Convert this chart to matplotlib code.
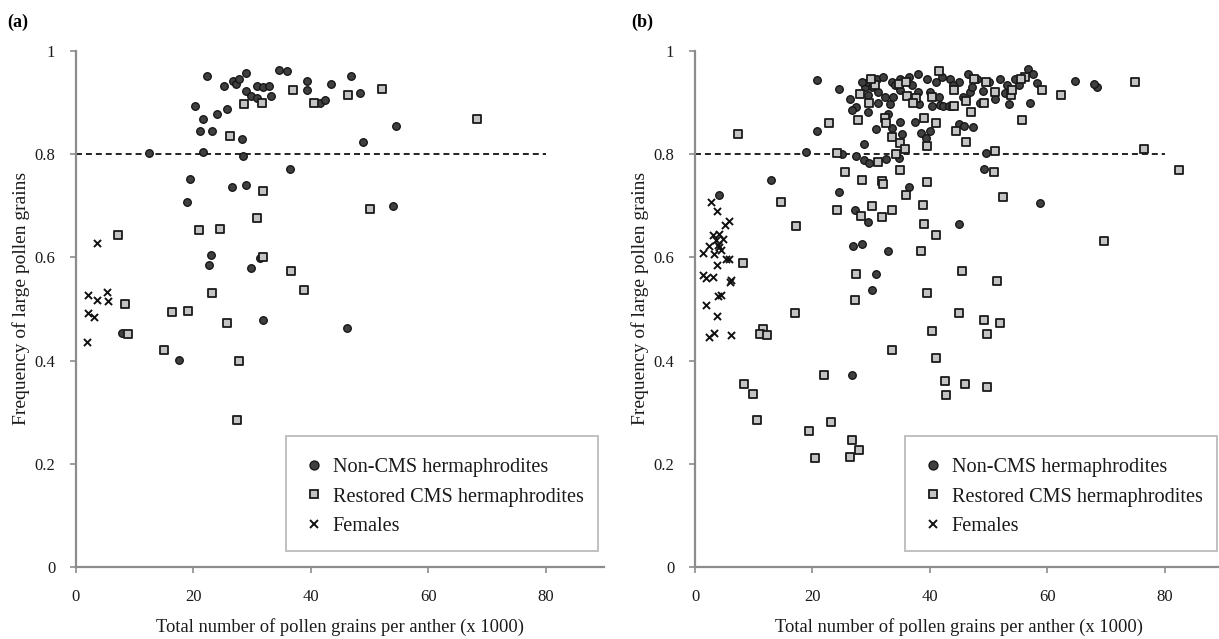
import matplotlib
matplotlib.use("Agg")
import matplotlib.pyplot as plt
from matplotlib.lines import Line2D
from matplotlib.patches import Rectangle

plt.rcParams['font.family'] = ['Liberation Serif', 'DejaVu Serif']

# (a) pollen counts (x 1000) and frequency of large grains
a_noncms_x = [22.4, 25.2, 26.7, 27.3, 27.7, 29.0, 29.0, 29.8, 30.8, 30.8, 31.9, 32.8,
              33.3, 34.6, 35.9, 39.4, 39.4, 41.6, 42.4, 43.5, 46.9, 48.3, 20.3, 21.6,
              24.0, 25.7, 21.1, 23.2, 28.2, 21.6, 12.5, 28.4, 48.9, 54.5, 36.5, 19.4,
              18.9, 26.5, 29.0, 54.0, 23.0, 22.7, 31.3, 29.8, 31.9, 7.9, 17.5, 46.2]
a_noncms_y = [0.951, 0.933, 0.942, 0.936, 0.945, 0.958, 0.922, 0.912, 0.933, 0.909, 0.930, 0.933,
              0.912, 0.964, 0.961, 0.942, 0.924, 0.900, 0.906, 0.936, 0.951, 0.918, 0.894, 0.869,
              0.878, 0.888, 0.845, 0.845, 0.830, 0.805, 0.802, 0.796, 0.824, 0.854, 0.772, 0.751,
              0.708, 0.736, 0.741, 0.699, 0.604, 0.586, 0.598, 0.580, 0.479, 0.454, 0.402, 0.464]

a_cms_x = [28.6, 31.7, 36.9, 40.5, 46.4, 52.1, 68.3, 26.2, 31.9, 30.8, 20.9, 24.6, 50.0,
           7.1, 31.9, 36.6, 38.8, 23.2, 8.4, 16.3, 19.0, 25.7, 8.9, 15.0, 27.7, 27.4]
a_cms_y = [0.897, 0.900, 0.924, 0.900, 0.915, 0.927, 0.869, 0.836, 0.729, 0.677, 0.653, 0.656, 0.693,
           0.644, 0.601, 0.573, 0.536, 0.531, 0.509, 0.494, 0.497, 0.473, 0.452, 0.421, 0.399, 0.284]

a_fem_x = [3.6, 2.0, 3.6, 5.2, 5.5, 2.0, 3.1, 1.8]
a_fem_y = [0.628, 0.527, 0.518, 0.533, 0.515, 0.492, 0.485, 0.436]

# (b)
b_noncms_x = [4.1, 12.9, 20.7, 18.9, 24.6, 20.7, 26.4, 27.5, 26.8, 29.4, 31.2, 29.4,
              30.9, 28.8, 25.1, 27.5, 28.8, 29.6, 32.6, 24.5, 27.2, 29.4, 26.9, 28.5,
              30.9, 30.1, 32.9, 26.7, 28.9, 29.5,
              57.0, 58.7, 49.5, 49.2, 44.9, 36.4, 33.6, 35.3, 35.0, 37.4, 38.5, 40.1,
              39.3, 44.9, 45.9, 47.4, 34.8, 32.9, 33.2, 35.0, 38.0, 40.0, 41.5, 40.3,
              41.7, 42.3, 45.7, 46.8, 48.5, 49.0, 51.1, 52.8, 53.5, 53.1, 55.2, 58.2,
              68.4, 67.9, 64.7, 31.2, 33.8, 32.3, 38.2, 43.2, 43.7,
              28.5, 31.0, 32.0, 33.5, 35.0, 36.5, 38.0, 39.5, 41.0, 42.0, 43.5, 45.0,
              46.5, 48.0, 50.0, 52.0, 56.8, 57.5, 34.0, 37.0, 44.0, 54.5, 30.2, 47.2]
b_noncms_y = [0.720, 0.750, 0.845, 0.805, 0.927, 0.944, 0.907, 0.891, 0.885, 0.882, 0.900, 0.914,
              0.848, 0.820, 0.800, 0.797, 0.788, 0.782, 0.791, 0.726, 0.691, 0.669, 0.623, 0.626,
              0.568, 0.537, 0.613, 0.372, 0.931, 0.940,
              0.900, 0.705, 0.803, 0.772, 0.665, 0.736, 0.851, 0.839, 0.863, 0.863, 0.842, 0.845,
              0.831, 0.858, 0.855, 0.852, 0.793, 0.878, 0.898, 0.924, 0.921, 0.921, 0.911, 0.894,
              0.896, 0.894, 0.911, 0.921, 0.900, 0.923, 0.907, 0.918, 0.898, 0.934, 0.934, 0.938,
              0.931, 0.937, 0.942, 0.921, 0.911, 0.911, 0.898, 0.894, 0.894,
              0.940, 0.945, 0.950, 0.940, 0.945, 0.950, 0.955, 0.945, 0.940, 0.950, 0.945, 0.940,
              0.955, 0.945, 0.940, 0.945, 0.965, 0.955, 0.935, 0.935, 0.935, 0.945, 0.930, 0.930]

b_cms_x = [7.4, 22.9, 27.8, 24.2, 25.6, 28.5, 31.8, 32.1, 31.2, 14.6, 17.2, 24.2,
           28.3, 30.2, 31.8, 8.1, 27.5, 27.2, 28.1, 29.6, 32.3, 32.6, 30.6,
           11.6, 11.1, 12.2, 17.0, 33.6, 22.0, 8.4, 9.8, 10.5, 23.1, 19.4, 26.7,
           28.0, 26.4, 20.4,
           34.8, 36.2, 37.7, 37.2, 40.3, 44.2, 44.2, 46.2, 49.2, 51.1, 53.9, 54.0,
           59.1, 62.4, 47.1, 55.7, 39.0, 41.1, 44.4, 33.6, 34.9, 35.7, 39.6, 46.2,
           51.1, 34.2, 35.0, 39.6, 50.9, 35.9, 38.8, 33.6, 52.5, 39.0, 41.1, 38.5,
           45.5, 51.4, 39.6, 44.9, 49.2, 51.9, 40.4, 49.8, 41.0, 42.6, 46.0, 49.8,
           42.8,
           41.5, 56.2, 55.5, 30.0, 36.0, 47.5, 49.5, 75.0, 76.5, 82.5, 69.6]
b_cms_y = [0.839, 0.860, 0.867, 0.803, 0.766, 0.750, 0.748, 0.742, 0.784, 0.708, 0.660, 0.691,
           0.681, 0.699, 0.678, 0.589, 0.568, 0.517, 0.916, 0.900, 0.871, 0.860, 0.934,
           0.461, 0.452, 0.449, 0.492, 0.421, 0.372, 0.355, 0.335, 0.284, 0.281, 0.263, 0.247,
           0.226, 0.214, 0.211,
           0.937, 0.913, 0.909, 0.900, 0.911, 0.924, 0.894, 0.903, 0.900, 0.920, 0.914, 0.925,
           0.925, 0.914, 0.882, 0.866, 0.871, 0.861, 0.845, 0.834, 0.821, 0.811, 0.815, 0.824,
           0.806, 0.800, 0.769, 0.747, 0.766, 0.720, 0.702, 0.692, 0.717, 0.665, 0.644, 0.613,
           0.573, 0.555, 0.531, 0.492, 0.479, 0.473, 0.458, 0.452, 0.405, 0.360, 0.354, 0.348,
           0.333,
           0.962, 0.950, 0.945, 0.945, 0.940, 0.945, 0.940, 0.940, 0.810, 0.770, 0.632]

b_fem_x = [2.7, 3.8, 5.8, 5.1, 3.0, 4.1, 4.8, 3.6, 2.4, 4.1, 1.4, 3.2, 4.4, 4.0,
           5.3, 5.8, 3.8, 1.4, 1.9, 3.0, 6.1, 6.0, 4.0, 4.5, 1.9, 3.8, 2.4, 3.2, 6.2]
b_fem_y = [0.707, 0.689, 0.671, 0.662, 0.644, 0.645, 0.636, 0.633, 0.622, 0.620, 0.608, 0.606,
           0.615, 0.625, 0.596, 0.597, 0.585, 0.566, 0.560, 0.562, 0.557, 0.552, 0.526, 0.528,
           0.507, 0.486, 0.446, 0.454, 0.449]

THRESHOLD = 0.8
THRESHOLD_END = 80
XTICKS = [0, 20, 40, 60, 80]
YTICKS = [0, 0.2, 0.4, 0.6, 0.8, 1]
YTICKLABELS = ['0', '0.2', '0.4', '0.6', '0.8', '1']
LEGEND_LABELS = ['Non-CMS hermaphrodites', 'Restored CMS hermaphrodites', 'Females']

AXCOL = '#8c8c8c'
TXT = '#1a1a1a'
CIRC_FACE = '#3f3f3f'
SQ_FACE = '#c4c4c4'

W, H = 1219, 639
fig = plt.figure(figsize=(W / 100, H / 100), dpi=100)

panels = [
    ('(a)', 76, 7, (a_noncms_x, a_noncms_y), (a_cms_x, a_cms_y), (a_fem_x, a_fem_y)),
    ('(b)', 695, 631, (b_noncms_x, b_noncms_y), (b_cms_x, b_cms_y), (b_fem_x, b_fem_y)),
]

for tag, left_px, tag_px, noncms, cms, fem in panels:
    width_px = 90 * 5.87
    ax = fig.add_axes([left_px / W, 1 - 567 / H, width_px / W, 516 / H])
    ax.set_xlim(0, 90)
    ax.set_ylim(0, 1)

    ax.hlines(THRESHOLD, 0, THRESHOLD_END, colors='#111111', linestyles=(0, (3.3, 2.2)),
              linewidth=1.3, zorder=1)

    ax.scatter(*noncms, s=30, marker='o', facecolor=CIRC_FACE, edgecolor='#111111',
               linewidth=0.9, zorder=3)
    ax.scatter(*cms, s=26, marker='s', facecolor=SQ_FACE, edgecolor='#1a1a1a',
               linewidth=1.3, zorder=3)
    ax.scatter(*fem, s=26, marker='x', color='#111111', linewidth=1.4, zorder=3)

    for side in ('top', 'right'):
        ax.spines[side].set_visible(False)
    for side in ('left', 'bottom'):
        ax.spines[side].set_color(AXCOL)
        ax.spines[side].set_linewidth(1.6)
    ax.set_xticks(XTICKS)
    ax.set_yticks(YTICKS)
    ax.set_yticklabels(YTICKLABELS)
    ax.tick_params(axis='both', direction='out', color=AXCOL, width=1.2, length=4,
                   labelsize=12, labelcolor=TXT)
    ax.tick_params(axis='x', pad=12)
    ax.tick_params(axis='y', pad=11)

    ax.set_xlabel('Total number of pollen grains per anther (x 1000)', fontsize=13.3,
                  color=TXT, va='center')
    ax.xaxis.set_label_coords(0.5, -0.116)
    ax.set_ylabel('Frequency of large pollen grains', fontsize=14, color=TXT, va='center')
    ax.yaxis.set_label_coords(-0.104, 0.52)

    # legend box drawn on its own so its height can be set freely
    ax.add_patch(Rectangle((0.398, 0.031), 0.591, 0.223, transform=ax.transAxes,
                           facecolor='white', edgecolor='#c0c0c0', linewidth=1.4,
                           zorder=4, clip_on=False))
    handles = [
        Line2D([], [], linestyle='none', marker='o', markersize=6.5,
               markerfacecolor=CIRC_FACE, markeredgecolor='#111111', markeredgewidth=0.9),
        Line2D([], [], linestyle='none', marker='s', markersize=6,
               markerfacecolor=SQ_FACE, markeredgecolor='#1a1a1a', markeredgewidth=1.3),
        Line2D([], [], linestyle='none', marker='x', markersize=6,
               color='#111111', markeredgewidth=1.4),
    ]
    leg = ax.legend(handles, LEGEND_LABELS, loc='upper left',
                    bbox_to_anchor=(0.432, 0.212), fontsize=14.6, frameon=False,
                    borderpad=0, labelspacing=0.52, handlelength=1.0,
                    handletextpad=0.4, borderaxespad=0)
    leg.set_zorder(5)
    for t in leg.get_texts():
        t.set_color(TXT)

    fig.text(tag_px / W, 1 - 22 / H, tag, fontsize=13, fontweight='bold',
             ha='left', va='center', color='#000000')

fig.savefig('out.png', dpi=100)
